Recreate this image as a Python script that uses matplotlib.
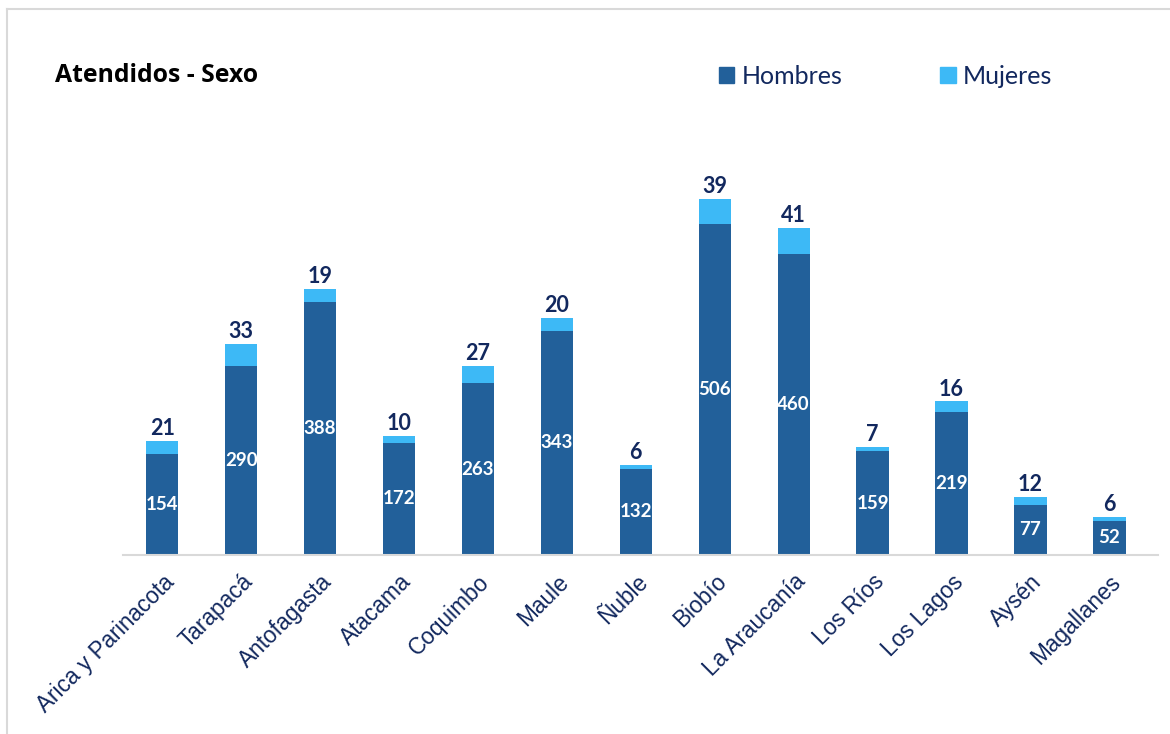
import matplotlib.pyplot as plt
from matplotlib.lines import Line2D
import numpy as np

regiones = ["Arica y Parinacota", "Tarapacá", "Antofagasta", "Atacama", "Coquimbo",
            "Maule", "Ñuble", "Biobío", "La Araucanía", "Los Ríos", "Los Lagos",
            "Aysén", "Magallanes"]
hombres = [154, 290, 388, 172, 263, 343, 132, 506, 460, 159, 219, 77, 52]
mujeres = [21, 33, 19, 10, 27, 20, 6, 39, 41, 7, 16, 12, 6]

c_hombres = "#22609A"
c_mujeres = "#3DB9F6"
navy = "#12285E"

fig = plt.figure(figsize=(11.7, 7.34), dpi=100)
ax = fig.add_axes([0.105, 0.2439, 0.885, 0.534])

x = np.arange(len(regiones))
ax.bar(x, hombres, width=0.41, color=c_hombres, label="Hombres")
ax.bar(x, mujeres, width=0.41, bottom=hombres, color=c_mujeres, label="Mujeres")

for i in range(len(x)):
    ax.text(x[i], hombres[i] / 2, str(hombres[i]), ha="center", va="center",
            color="white", fontsize=13.5, fontweight="bold", family="Lato")
    ax.text(x[i], hombres[i] + mujeres[i] + 3, str(mujeres[i]), ha="center",
            va="bottom", color=navy, fontsize=15.5, fontweight="bold", family="Lato")

ax.set_xlim(-0.5, 12.62)
ax.set_ylim(0, 600)
ax.set_yticks([])
for s in ["top", "right", "left"]:
    ax.spines[s].set_visible(False)
ax.spines["bottom"].set_color("#D9D9D9")
ax.spines["bottom"].set_linewidth(1.5)
ax.tick_params(axis="x", length=0, pad=11)
ax.set_xticks(x)
ax.set_xticklabels(regiones, rotation=45, ha="right", rotation_mode="anchor",
                   fontsize=16.3, color=navy, family="Liberation Sans")

fig.text(0.047, 0.897, "Atendidos - Sexo", fontsize=17.8, fontweight="bold",
         color="black", family="Open Sans", va="center")

handles = [plt.Rectangle((0, 0), 1, 1, color=c_hombres),
           plt.Rectangle((0, 0), 1, 1, color=c_mujeres)]
fig.legend(handles, ["Hombres", "Mujeres"], loc="center", ncol=2,
           bbox_to_anchor=(0.757, 0.896), frameon=False, handlelength=0.62,
           handleheight=0.62, handletextpad=0.3, columnspacing=3.9,
           prop={"family": "Lato", "size": 18}, labelcolor=navy)

# light grey frame around the chart area
fig.add_artist(Line2D([0.006, 1.0], [0.988, 0.988], color="#D9D9D9", lw=1.5,
                      transform=fig.transFigure))
fig.add_artist(Line2D([0.006, 0.006], [0.0, 0.988], color="#D9D9D9", lw=1.5,
                      transform=fig.transFigure))

fig.savefig("out.png", dpi=100)
